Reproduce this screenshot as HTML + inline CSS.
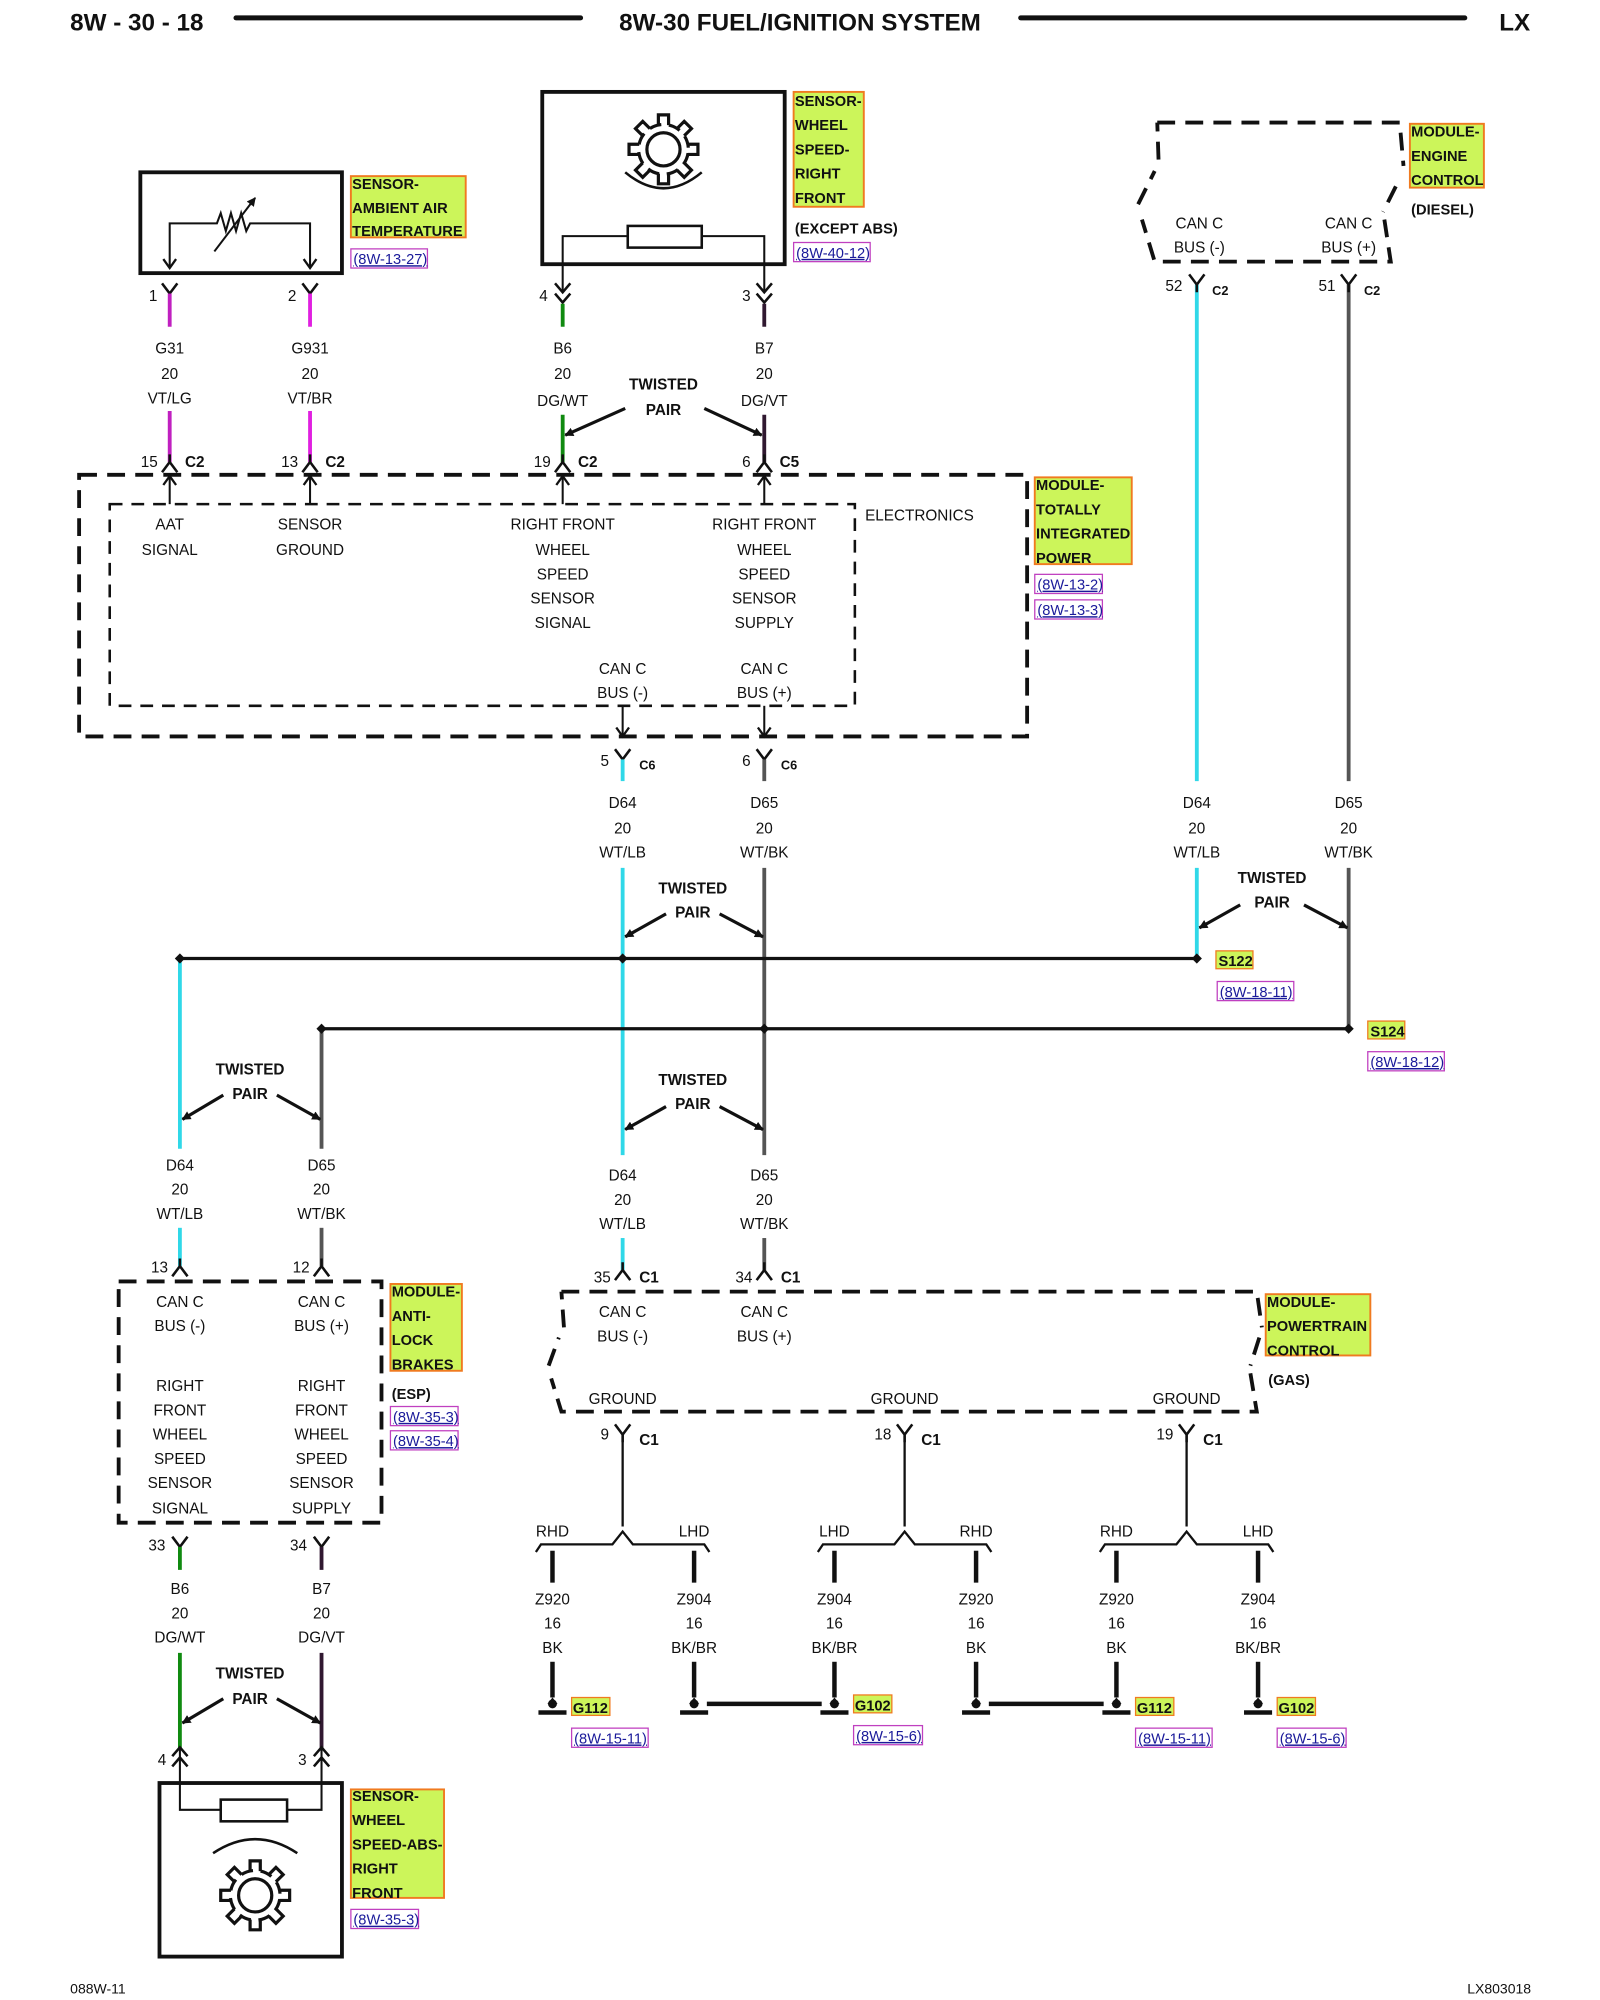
<!DOCTYPE html>
<html><head><meta charset="utf-8"><style>
html,body{margin:0;padding:0;background:#fff}
svg{display:block}
text{font-family:"Liberation Sans",sans-serif;font-size:12px;fill:#111}
.m{text-anchor:middle}
.b{font-weight:bold}
.lb{font-weight:bold;font-size:11.5px}
.rf{font-size:11.5px;fill:#1a1a9a;text-decoration:underline}
.h{font-weight:bold;font-size:19px}
</style></head><body>
<svg width="1600" height="2000" viewBox="0 0 1254 1567" preserveAspectRatio="none" xmlns="http://www.w3.org/2000/svg">
<defs>
<path id="Y" d="M-6,0 L0,8 L6,0 M0,8 V14" fill="none" stroke="#111" stroke-width="2"/>
<path id="A" d="M-6,8 L0,0 L6,8 M0,0 V-6" fill="none" stroke="#111" stroke-width="2"/>
<path id="YY" d="M-6,0 L0,7 L6,0 M-6,8 L0,15 L6,8" fill="none" stroke="#111" stroke-width="2"/>
<path id="AA" d="M-6,8 L0,1 L6,8 M-6,16 L0,9 L6,16" fill="none" stroke="#111" stroke-width="2"/>
<path id="au" d="M-5,7 L0,0 L5,7" fill="none" stroke="#111" stroke-width="1.8"/>
<path id="ad" d="M-5,-7 L0,0 L5,-7" fill="none" stroke="#111" stroke-width="1.8"/>
<marker id="tri" viewBox="0 0 10 10" refX="9" refY="5" markerWidth="7" markerHeight="7" orient="auto" markerUnits="userSpaceOnUse"><path d="M0,0 L10,5 L0,10z" fill="#111"/></marker>
<g id="gear" fill="none" stroke="#111" stroke-width="2.5">
<circle r="13"/>
<path d="M-4,-19 V-27 H4 V-19 M-4,19 V27 H4 V19 M-19,-4 H-27 V4 H-19 M19,-4 H27 V4 H19"/>
<path d="M-4,-19 V-27 H4 V-19 M-4,19 V27 H4 V19 M-19,-4 H-27 V4 H-19 M19,-4 H27 V4 H19" transform="rotate(45)"/>
<circle r="19.5" stroke-dasharray="9.5 6" stroke-dashoffset="-3"/>
</g>
<g id="gnd"><circle r="3.5" cy="-2" fill="#111"/><path d="M-4,-2 L0,-7 L4,-2z" fill="#111"/><rect x="-11" y="3" width="22" height="3.5" fill="#111"/></g>
</defs>

<!-- header -->
<text x="55" y="24" class="h">8W - 30 - 18</text>
<line x1="185" y1="14" x2="455" y2="14" stroke="#111" stroke-width="4" stroke-linecap="round"/>
<text x="627" y="24" class="h m">8W-30 FUEL/IGNITION SYSTEM</text>
<line x1="800" y1="14" x2="1148" y2="14" stroke="#111" stroke-width="4" stroke-linecap="round"/>
<text x="1175" y="24" class="h">LX</text>

<!-- AAT sensor -->
<rect x="110" y="135" width="158" height="79" fill="none" stroke="#111" stroke-width="3"/>
<path d="M133,210 V175 H170 l3,-8 4,14 4,-14 4,14 4,-14 4,14 3,-6 H243 V210" fill="none" stroke="#111" stroke-width="1.6"/>
<line x1="168" y1="197" x2="200" y2="155" stroke="#111" stroke-width="1.6" marker-end="url(#tri)"/>
<use href="#ad" x="133" y="210"/><use href="#ad" x="243" y="210"/>
<rect x="275" y="138" width="90" height="48" fill="#ccf55a" stroke="#f07a20" stroke-width="1.5"/>
<text x="276" y="148" class="lb">SENSOR-</text><text x="276" y="167" class="lb">AMBIENT AIR</text><text x="276" y="185" class="lb">TEMPERATURE</text>
<rect x="275" y="195" width="60" height="15" fill="none" stroke="#c040c0"/><text x="277" y="207" class="rf">(8W-13-27)</text>

<!-- wheel speed sensor top -->
<rect x="425" y="72" width="190" height="135" fill="none" stroke="#111" stroke-width="3"/>
<use href="#gear" x="520" y="117"/>
<path d="M490,135 Q520,160 550,135" fill="none" stroke="#111" stroke-width="2"/>
<rect x="492" y="177" width="58" height="17" fill="none" stroke="#111" stroke-width="2"/>
<path d="M441,228 V185 H492 M550,185 H599 V228" fill="none" stroke="#111" stroke-width="1.6"/>
<rect x="622" y="72" width="55" height="90" fill="#ccf55a" stroke="#f07a20" stroke-width="1.5"/>
<text x="623" y="83" class="lb">SENSOR-</text><text x="623" y="102" class="lb">WHEEL</text><text x="623" y="121" class="lb">SPEED-</text><text x="623" y="140" class="lb">RIGHT</text><text x="623" y="159" class="lb">FRONT</text>
<text x="623" y="183" class="lb">(EXCEPT ABS)</text>
<rect x="622" y="190" width="60" height="15" fill="none" stroke="#c040c0"/><text x="624" y="202" class="rf">(8W-40-12)</text>

<!-- top wires -->
<use href="#Y" x="133" y="222"/><use href="#Y" x="243" y="222"/>
<use href="#YY" x="441" y="222"/><use href="#YY" x="599" y="222"/>
<g stroke-width="3">
<line x1="133" y1="230" x2="133" y2="256" stroke="#c020c0"/><line x1="243" y1="230" x2="243" y2="256" stroke="#e020e0"/>
<line x1="441" y1="238" x2="441" y2="256" stroke="#108a10"/><line x1="599" y1="238" x2="599" y2="256" stroke="#301830"/>
<line x1="133" y1="322" x2="133" y2="362" stroke="#c020c0"/><line x1="243" y1="322" x2="243" y2="362" stroke="#e020e0"/>
<line x1="441" y1="325" x2="441" y2="362" stroke="#108a10"/><line x1="599" y1="325" x2="599" y2="362" stroke="#301830"/>
</g>
<text x="120" y="236" class="m">1</text><text x="229" y="236" class="m">2</text><text x="426" y="236" class="m">4</text><text x="585" y="236" class="m">3</text>
<g class="m">
<text x="133" y="277" class="m">G31</text><text x="133" y="297" class="m">20</text><text x="133" y="316" class="m">VT/LG</text>
<text x="243" y="277" class="m">G931</text><text x="243" y="297" class="m">20</text><text x="243" y="316" class="m">VT/BR</text>
<text x="441" y="277" class="m">B6</text><text x="441" y="297" class="m">20</text><text x="441" y="318" class="m">DG/WT</text>
<text x="599" y="277" class="m">B7</text><text x="599" y="297" class="m">20</text><text x="599" y="318" class="m">DG/VT</text>
</g>
<text x="520" y="305" class="m b">TWISTED</text><text x="520" y="325" class="m b">PAIR</text>
<line x1="490" y1="320" x2="443" y2="341" stroke="#111" stroke-width="2.5" marker-end="url(#tri)"/>
<line x1="552" y1="320" x2="597" y2="341" stroke="#111" stroke-width="2.5" marker-end="url(#tri)"/>
<use href="#A" x="133" y="362"/><use href="#A" x="243" y="362"/><use href="#A" x="441" y="362"/><use href="#A" x="599" y="362"/>
<text x="117" y="366" class="m">15</text><text x="227" y="366" class="m">13</text><text x="425" y="366" class="m">19</text><text x="585" y="366" class="m">6</text>
<text x="145" y="366" class="b">C2</text><text x="255" y="366" class="b">C2</text><text x="453" y="366" class="b">C2</text><text x="611" y="366" class="b">C5</text>

<!-- TIPM -->
<rect x="62" y="372" width="743" height="205" fill="none" stroke="#111" stroke-width="3" stroke-dasharray="14 8"/>
<rect x="86" y="395" width="584" height="158" fill="none" stroke="#111" stroke-width="2" stroke-dasharray="10 7"/>
<g stroke="#111" stroke-width="1.6"><line x1="133" y1="372" x2="133" y2="395"/><line x1="243" y1="372" x2="243" y2="395"/><line x1="441" y1="372" x2="441" y2="395"/><line x1="599" y1="372" x2="599" y2="395"/><line x1="488" y1="553" x2="488" y2="577"/><line x1="599" y1="553" x2="599" y2="577"/></g>
<use href="#au" x="133" y="373"/><use href="#au" x="243" y="373"/><use href="#au" x="441" y="373"/><use href="#au" x="599" y="373"/>
<use href="#ad" x="488" y="577"/><use href="#ad" x="599" y="577"/>
<text x="133" y="415" class="m">AAT</text><text x="133" y="435" class="m">SIGNAL</text>
<text x="243" y="415" class="m">SENSOR</text><text x="243" y="435" class="m">GROUND</text>
<text x="441" y="415" class="m">RIGHT FRONT</text><text x="441" y="435" class="m">WHEEL</text><text x="441" y="454" class="m">SPEED</text><text x="441" y="473" class="m">SENSOR</text><text x="441" y="492" class="m">SIGNAL</text>
<text x="599" y="415" class="m">RIGHT FRONT</text><text x="599" y="435" class="m">WHEEL</text><text x="599" y="454" class="m">SPEED</text><text x="599" y="473" class="m">SENSOR</text><text x="599" y="492" class="m">SUPPLY</text>
<text x="678" y="408">ELECTRONICS</text>
<text x="488" y="528" class="m">CAN C</text><text x="488" y="547" class="m">BUS (-)</text>
<text x="599" y="528" class="m">CAN C</text><text x="599" y="547" class="m">BUS (+)</text>
<rect x="811" y="374" width="76" height="68" fill="#ccf55a" stroke="#f07a20" stroke-width="1.5"/>
<text x="812" y="384" class="lb">MODULE-</text><text x="812" y="403" class="lb">TOTALLY</text><text x="812" y="422" class="lb">INTEGRATED</text><text x="812" y="441" class="lb">POWER</text>
<rect x="811" y="450" width="53" height="15" fill="none" stroke="#c040c0"/><text x="813" y="462" class="rf">(8W-13-2)</text>
<rect x="811" y="470" width="53" height="15" fill="none" stroke="#c040c0"/><text x="813" y="482" class="rf">(8W-13-3)</text>

<!-- below TIPM -->
<use href="#Y" x="488" y="587"/><use href="#Y" x="599" y="587"/>
<text x="474" y="600" class="m">5</text><text x="585" y="600" class="m">6</text>
<text x="501" y="603" class="b" style="font-size:10px">C6</text><text x="612" y="603" class="b" style="font-size:10px">C6</text>
<g stroke-width="3">
<line x1="488" y1="595" x2="488" y2="612" stroke="#30d8e8"/><line x1="599" y1="595" x2="599" y2="612" stroke="#555"/>
<line x1="488" y1="680" x2="488" y2="905" stroke="#30d8e8"/><line x1="599" y1="680" x2="599" y2="905" stroke="#555"/>
<line x1="938" y1="223" x2="938" y2="612" stroke="#30d8e8"/><line x1="1057" y1="223" x2="1057" y2="612" stroke="#555"/>
<line x1="938" y1="680" x2="938" y2="751" stroke="#30d8e8"/><line x1="1057" y1="680" x2="1057" y2="806" stroke="#555"/>
<line x1="141" y1="751" x2="141" y2="900" stroke="#30d8e8"/><line x1="252" y1="806" x2="252" y2="900" stroke="#555"/>
<line x1="141" y1="962" x2="141" y2="992" stroke="#30d8e8"/><line x1="252" y1="962" x2="252" y2="992" stroke="#555"/>
<line x1="488" y1="970" x2="488" y2="995" stroke="#30d8e8"/><line x1="599" y1="970" x2="599" y2="995" stroke="#555"/>
</g>
<g>
<text x="488" y="633" class="m">D64</text><text x="488" y="653" class="m">20</text><text x="488" y="672" class="m">WT/LB</text>
<text x="599" y="633" class="m">D65</text><text x="599" y="653" class="m">20</text><text x="599" y="672" class="m">WT/BK</text>
<text x="938" y="633" class="m">D64</text><text x="938" y="653" class="m">20</text><text x="938" y="672" class="m">WT/LB</text>
<text x="1057" y="633" class="m">D65</text><text x="1057" y="653" class="m">20</text><text x="1057" y="672" class="m">WT/BK</text>
<text x="141" y="917" class="m">D64</text><text x="141" y="936" class="m">20</text><text x="141" y="955" class="m">WT/LB</text>
<text x="252" y="917" class="m">D65</text><text x="252" y="936" class="m">20</text><text x="252" y="955" class="m">WT/BK</text>
<text x="488" y="925" class="m">D64</text><text x="488" y="944" class="m">20</text><text x="488" y="963" class="m">WT/LB</text>
<text x="599" y="925" class="m">D65</text><text x="599" y="944" class="m">20</text><text x="599" y="963" class="m">WT/BK</text>
</g>
<!-- twisted pair labels -->
<text x="543" y="700" class="m b">TWISTED</text><text x="543" y="719" class="m b">PAIR</text>
<line x1="522" y1="716" x2="490" y2="734" stroke="#111" stroke-width="2.5" marker-end="url(#tri)"/>
<line x1="564" y1="716" x2="598" y2="734" stroke="#111" stroke-width="2.5" marker-end="url(#tri)"/>
<text x="997" y="692" class="m b">TWISTED</text><text x="997" y="711" class="m b">PAIR</text>
<line x1="972" y1="709" x2="940" y2="727" stroke="#111" stroke-width="2.5" marker-end="url(#tri)"/>
<line x1="1022" y1="709" x2="1056" y2="727" stroke="#111" stroke-width="2.5" marker-end="url(#tri)"/>
<text x="543" y="850" class="m b">TWISTED</text><text x="543" y="869" class="m b">PAIR</text>
<line x1="522" y1="867" x2="490" y2="885" stroke="#111" stroke-width="2.5" marker-end="url(#tri)"/>
<line x1="564" y1="867" x2="598" y2="885" stroke="#111" stroke-width="2.5" marker-end="url(#tri)"/>
<text x="196" y="842" class="m b">TWISTED</text><text x="196" y="861" class="m b">PAIR</text>
<line x1="175" y1="858" x2="143" y2="877" stroke="#111" stroke-width="2.5" marker-end="url(#tri)"/>
<line x1="217" y1="858" x2="251" y2="877" stroke="#111" stroke-width="2.5" marker-end="url(#tri)"/>

<!-- splices -->
<line x1="141" y1="751" x2="938" y2="751" stroke="#111" stroke-width="2.5"/>
<line x1="252" y1="806" x2="1057" y2="806" stroke="#111" stroke-width="2.5"/>
<g fill="#111"><path d="M141,747 l4,4 -4,4 -4,-4z"/><path d="M488,747 l4,4 -4,4 -4,-4z"/><path d="M938,747 l4,4 -4,4 -4,-4z"/>
<path d="M252,802 l4,4 -4,4 -4,-4z"/><path d="M599,802 l4,4 -4,4 -4,-4z"/><path d="M1057,802 l4,4 -4,4 -4,-4z"/></g>
<rect x="953" y="745" width="29" height="14" fill="#ccf55a" stroke="#f07a20"/><text x="955" y="757" class="lb">S122</text>
<rect x="954" y="769" width="60" height="15" fill="none" stroke="#c040c0"/><text x="956" y="781" class="rf">(8W-18-11)</text>
<rect x="1072" y="800" width="29" height="14" fill="#ccf55a" stroke="#f07a20"/><text x="1074" y="812" class="lb">S124</text>
<rect x="1072" y="824" width="60" height="15" fill="none" stroke="#c040c0"/><text x="1074" y="836" class="rf">(8W-18-12)</text>

<!-- ECM -->
<path d="M907,96 H1097 L1100,130 M1094,146 L1084,166 M1085,172 L1090,205 H905 L895,172 M892,160 L905,134 M908,125 L907,96" fill="none" stroke="#111" stroke-width="3" stroke-dasharray="14 8"/>
<text x="940" y="179" class="m">CAN C</text><text x="940" y="198" class="m">BUS (-)</text>
<text x="1057" y="179" class="m">CAN C</text><text x="1057" y="198" class="m">BUS (+)</text>
<rect x="1105" y="97" width="58" height="50" fill="#ccf55a" stroke="#f07a20" stroke-width="1.5"/>
<text x="1106" y="107" class="lb">MODULE-</text><text x="1106" y="126" class="lb">ENGINE</text><text x="1106" y="145" class="lb">CONTROL</text>
<text x="1106" y="168" class="lb">(DIESEL)</text>
<use href="#Y" x="938" y="215"/><use href="#Y" x="1057" y="215"/>
<text x="920" y="228" class="m">52</text><text x="1040" y="228" class="m">51</text>
<text x="950" y="231" class="b" style="font-size:10px">C2</text><text x="1069" y="231" class="b" style="font-size:10px">C2</text>

<!-- ABS module -->
<use href="#A" x="141" y="992"/><use href="#A" x="252" y="992"/>
<text x="125" y="997" class="m">13</text><text x="236" y="997" class="m">12</text>
<rect x="93" y="1004" width="206" height="189" fill="none" stroke="#111" stroke-width="3" stroke-dasharray="14 8"/>
<text x="141" y="1024" class="m">CAN C</text><text x="141" y="1043" class="m">BUS (-)</text>
<text x="252" y="1024" class="m">CAN C</text><text x="252" y="1043" class="m">BUS (+)</text>
<text x="141" y="1090" class="m">RIGHT</text><text x="141" y="1109" class="m">FRONT</text><text x="141" y="1128" class="m">WHEEL</text><text x="141" y="1147" class="m">SPEED</text><text x="141" y="1166" class="m">SENSOR</text><text x="141" y="1186" class="m">SIGNAL</text>
<text x="252" y="1090" class="m">RIGHT</text><text x="252" y="1109" class="m">FRONT</text><text x="252" y="1128" class="m">WHEEL</text><text x="252" y="1147" class="m">SPEED</text><text x="252" y="1166" class="m">SENSOR</text><text x="252" y="1186" class="m">SUPPLY</text>
<rect x="306" y="1006" width="56" height="68" fill="#ccf55a" stroke="#f07a20" stroke-width="1.5"/>
<text x="307" y="1016" class="lb">MODULE-</text><text x="307" y="1035" class="lb">ANTI-</text><text x="307" y="1054" class="lb">LOCK</text><text x="307" y="1073" class="lb">BRAKES</text>
<text x="307" y="1096" class="lb">(ESP)</text>
<rect x="306" y="1102" width="53" height="15" fill="none" stroke="#c040c0"/><text x="308" y="1114" class="rf">(8W-35-3)</text>
<rect x="306" y="1121" width="53" height="15" fill="none" stroke="#c040c0"/><text x="308" y="1133" class="rf">(8W-35-4)</text>
<use href="#Y" x="141" y="1204"/><use href="#Y" x="252" y="1204"/>
<text x="123" y="1215" class="m">33</text><text x="234" y="1215" class="m">34</text>
<g stroke-width="3">
<line x1="141" y1="1212" x2="141" y2="1230" stroke="#108a10"/><line x1="252" y1="1212" x2="252" y2="1230" stroke="#301830"/>
<line x1="141" y1="1295" x2="141" y2="1370" stroke="#108a10"/><line x1="252" y1="1295" x2="252" y2="1370" stroke="#301830"/>
</g>
<text x="141" y="1249" class="m">B6</text><text x="141" y="1268" class="m">20</text><text x="141" y="1287" class="m">DG/WT</text>
<text x="252" y="1249" class="m">B7</text><text x="252" y="1268" class="m">20</text><text x="252" y="1287" class="m">DG/VT</text>
<text x="196" y="1315" class="m b">TWISTED</text><text x="196" y="1335" class="m b">PAIR</text>
<line x1="175" y1="1331" x2="143" y2="1350" stroke="#111" stroke-width="2.5" marker-end="url(#tri)"/>
<line x1="217" y1="1331" x2="251" y2="1350" stroke="#111" stroke-width="2.5" marker-end="url(#tri)"/>
<use href="#AA" x="141" y="1368"/><use href="#AA" x="252" y="1368"/>
<text x="127" y="1383" class="m">4</text><text x="237" y="1383" class="m">3</text>
<!-- bottom sensor -->
<path d="M141,1370 V1418 H173 M225,1418 H252 V1370" fill="none" stroke="#111" stroke-width="1.6"/>
<rect x="125" y="1397" width="143" height="136" fill="none" stroke="#111" stroke-width="3"/>
<rect x="173" y="1410" width="52" height="17" fill="none" stroke="#111" stroke-width="2"/>
<path d="M167,1452 Q200,1430 233,1452" fill="none" stroke="#111" stroke-width="2"/>
<use href="#gear" x="200" y="1485"/>
<rect x="275" y="1402" width="73" height="85" fill="#ccf55a" stroke="#f07a20" stroke-width="1.5"/>
<text x="276" y="1411" class="lb">SENSOR-</text><text x="276" y="1430" class="lb">WHEEL</text><text x="276" y="1449" class="lb">SPEED-ABS-</text><text x="276" y="1468" class="lb">RIGHT</text><text x="276" y="1487" class="lb">FRONT</text>
<rect x="275" y="1496" width="53" height="15" fill="none" stroke="#c040c0"/><text x="277" y="1508" class="rf">(8W-35-3)</text>

<!-- PCM -->
<use href="#A" x="488" y="995"/><use href="#A" x="599" y="995"/>
<text x="472" y="1005" class="m">35</text><text x="583" y="1005" class="m">34</text>
<text x="501" y="1005" class="b">C1</text><text x="612" y="1005" class="b">C1</text>
<path d="M440,1012 H985 L989,1040 M987,1048 L980,1070 M980,1076 L985,1106 H440 L432,1080 M430,1070 L438,1048 M442,1040 L440,1012" fill="none" stroke="#111" stroke-width="3" stroke-dasharray="14 8"/>
<text x="488" y="1032" class="m">CAN C</text><text x="488" y="1051" class="m">BUS (-)</text>
<text x="599" y="1032" class="m">CAN C</text><text x="599" y="1051" class="m">BUS (+)</text>
<text x="488" y="1100" class="m">GROUND</text><text x="709" y="1100" class="m">GROUND</text><text x="930" y="1100" class="m">GROUND</text>
<rect x="992" y="1014" width="82" height="48" fill="#ccf55a" stroke="#f07a20" stroke-width="1.5"/>
<text x="993" y="1024" class="lb">MODULE-</text><text x="993" y="1043" class="lb">POWERTRAIN</text><text x="993" y="1062" class="lb">CONTROL</text>
<text x="994" y="1085" class="lb">(GAS)</text>

<!-- grounds -->
<g id="grp1">
<use href="#Y" x="488" y="1116"/>
<line x1="488" y1="1124" x2="488" y2="1196" stroke="#111" stroke-width="1.8"/>
<path d="M420,1216 L424,1210 H480 L488,1200 L496,1210 H552 L556,1216" fill="none" stroke="#111" stroke-width="1.8"/>
</g>
<use href="#grp1" x="221"/><use href="#grp1" x="442"/>
<text x="474" y="1128" class="m">9</text><text x="692" y="1128" class="m">18</text><text x="913" y="1128" class="m">19</text>
<text x="501" y="1132" class="b">C1</text><text x="722" y="1132" class="b">C1</text><text x="943" y="1132" class="b">C1</text>
<g class="m">
<text x="433" y="1204" class="m">RHD</text><text x="544" y="1204" class="m">LHD</text>
<text x="654" y="1204" class="m">LHD</text><text x="765" y="1204" class="m">RHD</text>
<text x="875" y="1204" class="m">RHD</text><text x="986" y="1204" class="m">LHD</text>
</g>
<g stroke="#111" stroke-width="3.5">
<line x1="433" y1="1215" x2="433" y2="1240"/><line x1="544" y1="1215" x2="544" y2="1240"/><line x1="654" y1="1215" x2="654" y2="1240"/><line x1="765" y1="1215" x2="765" y2="1240"/><line x1="875" y1="1215" x2="875" y2="1240"/><line x1="986" y1="1215" x2="986" y2="1240"/>
<line x1="433" y1="1302" x2="433" y2="1330"/><line x1="544" y1="1302" x2="544" y2="1330"/><line x1="654" y1="1302" x2="654" y2="1330"/><line x1="765" y1="1302" x2="765" y2="1330"/><line x1="875" y1="1302" x2="875" y2="1330"/><line x1="986" y1="1302" x2="986" y2="1330"/>
<line x1="554" y1="1335" x2="644" y2="1335"/><line x1="775" y1="1335" x2="865" y2="1335"/>
</g>
<text x="433" y="1257" class="m">Z920</text><text x="433" y="1276" class="m">16</text><text x="433" y="1295" class="m">BK</text>
<text x="544" y="1257" class="m">Z904</text><text x="544" y="1276" class="m">16</text><text x="544" y="1295" class="m">BK/BR</text>
<text x="654" y="1257" class="m">Z904</text><text x="654" y="1276" class="m">16</text><text x="654" y="1295" class="m">BK/BR</text>
<text x="765" y="1257" class="m">Z920</text><text x="765" y="1276" class="m">16</text><text x="765" y="1295" class="m">BK</text>
<text x="875" y="1257" class="m">Z920</text><text x="875" y="1276" class="m">16</text><text x="875" y="1295" class="m">BK</text>
<text x="986" y="1257" class="m">Z904</text><text x="986" y="1276" class="m">16</text><text x="986" y="1295" class="m">BK/BR</text>
<use href="#gnd" x="433" y="1337"/><use href="#gnd" x="544" y="1337"/><use href="#gnd" x="654" y="1337"/><use href="#gnd" x="765" y="1337"/><use href="#gnd" x="875" y="1337"/><use href="#gnd" x="986" y="1337"/>
<rect x="448" y="1330" width="30" height="14" fill="#ccf55a" stroke="#f07a20"/><text x="449" y="1342" class="lb">G112</text>
<rect x="669" y="1328" width="30" height="14" fill="#ccf55a" stroke="#f07a20"/><text x="670" y="1340" class="lb">G102</text>
<rect x="890" y="1330" width="30" height="14" fill="#ccf55a" stroke="#f07a20"/><text x="891" y="1342" class="lb">G112</text>
<rect x="1001" y="1330" width="30" height="14" fill="#ccf55a" stroke="#f07a20"/><text x="1002" y="1342" class="lb">G102</text>
<rect x="448" y="1354" width="60" height="15" fill="none" stroke="#c040c0"/><text x="450" y="1366" class="rf">(8W-15-11)</text>
<rect x="669" y="1352" width="54" height="15" fill="none" stroke="#c040c0"/><text x="671" y="1364" class="rf">(8W-15-6)</text>
<rect x="890" y="1354" width="60" height="15" fill="none" stroke="#c040c0"/><text x="892" y="1366" class="rf">(8W-15-11)</text>
<rect x="1001" y="1354" width="54" height="15" fill="none" stroke="#c040c0"/><text x="1003" y="1366" class="rf">(8W-15-6)</text>

<!-- footer -->
<text x="55" y="1562" style="font-size:11px">088W-11</text>
<text x="1200" y="1562" style="font-size:11px;text-anchor:end">LX803018</text>
</svg>
</body></html>
